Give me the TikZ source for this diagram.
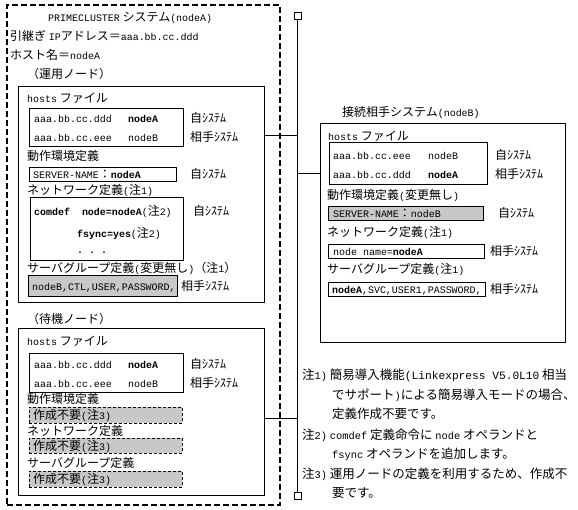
\documentclass[tikz,border=0pt]{standalone}
\usepackage{fontspec}
\setmainfont{Noto Sans CJK JP}
\newfontfamily\monofont{Liberation Mono}[Scale=0.83]
\newcommand{\mo}[1]{{\monofont #1}}
\newcommand{\mbf}[1]{{\monofont\bfseries #1}}
\newcommand{\wmo}[1]{{\monofont\fontsize{13.5}{15}\selectfont #1}}
\definecolor{gfill}{RGB}{200,200,200}
\begin{document}
\begin{tikzpicture}[x=1pt,y=-1pt,
  every node/.style={font=\fontsize{12}{14}\selectfont},
  t/.style={anchor=base west, inner sep=0pt, yshift=-4.5pt},
  nt/.style={anchor=base west, inner sep=0pt, yshift=-4.7pt, font=\fontsize{12.5}{15}\selectfont},
  bx/.style={draw, line width=0.8pt, anchor=north west, inner sep=0pt},
  gbx/.style={bx, fill=gfill},
  dgbx/.style={draw, line width=0.8pt, anchor=north west, inner sep=0pt, fill=gfill, dash pattern=on 3pt off 2pt},
  outer/.style={draw, line width=1.6pt, anchor=north west, inner sep=0pt, dash pattern=on 6pt off 3pt},
  sq/.style={draw, line width=0.8pt, minimum size=7pt, inner sep=0pt},
  ln/.style={line width=0.8pt}
]
\useasboundingbox (0,0) rectangle (578,509);

% ---------- PRIMECLUSTER system (nodeA) ----------
\node[outer, minimum width=273, minimum height=500] (sysA) at (6,4) {};
\node[t] (tA) at (48,17) {\mo{PRIMECLUSTER} システム\mo{(nodeA)}};
\node[t] (ip) at (10,36) {引継ぎ \mo{IP}アドレス＝\mo{aaa.bb.cc.ddd}};
\node[t] (hn) at (10,55) {ホスト名＝\mo{nodeA}};
\node[t] (opn) at (27,74) {（運用ノード）};

% active node box
\node[bx, minimum width=246, minimum height=216] (act) at (18,86) {};
\node[t] (a1) at (27,98) {\mo{hosts} ファイル};
\node[bx, minimum width=154, minimum height=38] (ah) at (29,108) {};
\node[t] (a2) at (34,118) {\mo{aaa.bb.cc.ddd}};
\node[t] (a3) at (128,118) {\mbf{nodeA}};
\node[t] (a4) at (34,137) {\mo{aaa.bb.cc.eee}};
\node[t] (a5) at (128,137) {\mo{nodeB}};
\node[t] (a6) at (190,118) {自ｼｽﾃﾑ};
\node[t] (a7) at (190,137) {相手ｼｽﾃﾑ};
\node[t] (a8) at (27,156) {動作環境定義};
\node[bx, minimum width=147, minimum height=14] (as) at (29,167) {};
\node[t] (a9) at (33,174) {\mo{SERVER-NAME}：\mbf{nodeA}};
\node[t] (a10) at (190,174) {自ｼｽﾃﾑ};
\node[t] (a11) at (27,190) {ネットワーク定義\mo{(}注\mo{1)}};
\node[bx, minimum width=153, minimum height=63] (ac) at (30,197) {};
\node[t] (a12) at (34,211) {\mbf{comdef~~node=nodeA}\mo{(}注\mo{2)}};
\node[t] (a13) at (77,233) {\mbf{fsync=yes}\mo{(}注\mo{2)}};
\node[t] (a14) at (77,249) {\mbf{.~.~.}};
\node[t] (a15) at (193,211) {自ｼｽﾃﾑ};
\node[t] (a16) at (27,268) {サーバグループ定義\mo{(}変更無し\mo{)}（注\mo{1}）};
\node[gbx, minimum width=149, minimum height=21] (ag) at (28,275) {};
\node[t] (a17) at (32,286) {\mo{nodeB,CTL,USER,PASSWORD,}};
\node[t] (a18) at (181,286) {相手ｼｽﾃﾑ};

% standby node box
\node[t] (b0) at (27,319) {（待機ノード）};
\node[bx, minimum width=246, minimum height=167] (sb) at (18,328) {};
\node[t] (b1) at (27,341) {\mo{hosts} ファイル};
\node[bx, minimum width=154, minimum height=39] (bh) at (29,353) {};
\node[t] (b2) at (34,364) {\mo{aaa.bb.cc.ddd}};
\node[t] (b3) at (128,364) {\mbf{nodeA}};
\node[t] (b4) at (34,383) {\mo{aaa.bb.cc.eee}};
\node[t] (b5) at (128,383) {\mo{nodeB}};
\node[t] (b6) at (190,364) {自ｼｽﾃﾑ};
\node[t] (b7) at (190,383) {相手ｼｽﾃﾑ};
\node[t] (b8) at (27,399) {動作環境定義};
\node[dgbx, minimum width=153, minimum height=16] (bd1) at (29,407) {};
\node[t] (b9) at (33,415) {作成不要\mo{(}注\mo{3)}};
\node[t] (b10) at (27,431) {ネットワーク定義};
\node[dgbx, minimum width=153, minimum height=15] (bd2) at (29,438) {};
\node[t] (b11) at (33,446) {作成不要\mo{(}注\mo{3)}};
\node[t] (b12) at (27,463) {サーバグループ定義};
\node[dgbx, minimum width=153, minimum height=16] (bd3) at (29,471) {};
\node[t] (b13) at (33,479) {作成不要\mo{(}注\mo{3)}};

% ---------- partner system (nodeB) ----------
\node[t] (c0) at (342,112) {接続相手システム\mo{(nodeB)}};
\node[bx, minimum width=245, minimum height=219] (nb) at (320,123) {};
\node[t] (c1) at (328,136) {\mo{hosts} ファイル};
\node[bx, minimum width=158, minimum height=42] (ch) at (329,142) {};
\node[t] (c2) at (333,155) {\mo{aaa.bb.cc.eee}};
\node[t] (c3) at (428,155) {\mo{nodeB}};
\node[t] (c4) at (333,174) {\mo{aaa.bb.cc.ddd}};
\node[t] (c5) at (428,174) {\mbf{nodeA}};
\node[t] (c6) at (495,155) {自ｼｽﾃﾑ};
\node[t] (c7) at (495,174) {相手ｼｽﾃﾑ};
\node[t] (c8) at (327,195) {動作環境定義\mo{(}変更無し\mo{)}};
\node[gbx, minimum width=155, minimum height=14] (cs) at (328,206) {};
\node[t] (c9) at (333,213) {\mo{SERVER-NAME}：\mo{nodeB}};
\node[t] (c10) at (498,213) {自ｼｽﾃﾑ};
\node[t] (c11) at (327,232) {ネットワーク定義\mo{(}注\mo{1)}};
\node[bx, minimum width=156, minimum height=14] (cn) at (328,244) {};
\node[t] (c12) at (333,251) {\mo{node name=}\mbf{nodeA}};
\node[t] (c13) at (490,251) {相手ｼｽﾃﾑ};
\node[t] (c14) at (327,269) {サーバグループ定義\mo{(}注\mo{1)}};
\node[bx, minimum width=157, minimum height=14] (cg) at (328,282) {};
\node[t] (c15) at (332,289) {\mbf{nodeA}\mo{,SVC,USER1,PASSWORD,}};
\node[t] (c16) at (490,289) {相手ｼｽﾃﾑ};

% ---------- network bus ----------
\node[sq] (sqt) at (297.5,16) {};
\node[sq] (sqb) at (297.5,496) {};
\draw[ln] (sqt.south) -- (sqb.north);
\coordinate (j1) at (297.5,135);
\coordinate (j2) at (297.5,173);
\coordinate (j3) at (297.5,418);
\draw[ln] (act.east |- j1) -- (j1);
\draw[ln] (j2) -- (nb.west |- j2);
\draw[ln] (sb.east |- j3) -- (j3);

% ---------- notes ----------
\node[nt] (n1) at (302,375) {注\mo{1)} 簡易導入機能\wmo{(Linkexpress V5.0L10} 相当};
\node[nt] (n2) at (332,395) {でサポート\mo{)}による簡易導入モードの場合、};
\node[nt] (n3) at (332,414) {定義作成不要です。};
\node[nt] (n4) at (302,435) {注\mo{2)} \mo{comdef} 定義命令に \mo{node} オペランドと};
\node[nt] (n5) at (332,454) {\mo{fsync} オペランドを追加します。};
\node[nt] (n6) at (302,474) {注\mo{3)} 運用ノードの定義を利用するため、作成不};
\node[nt] (n7) at (332,493) {要です。};
\end{tikzpicture}
\end{document}
